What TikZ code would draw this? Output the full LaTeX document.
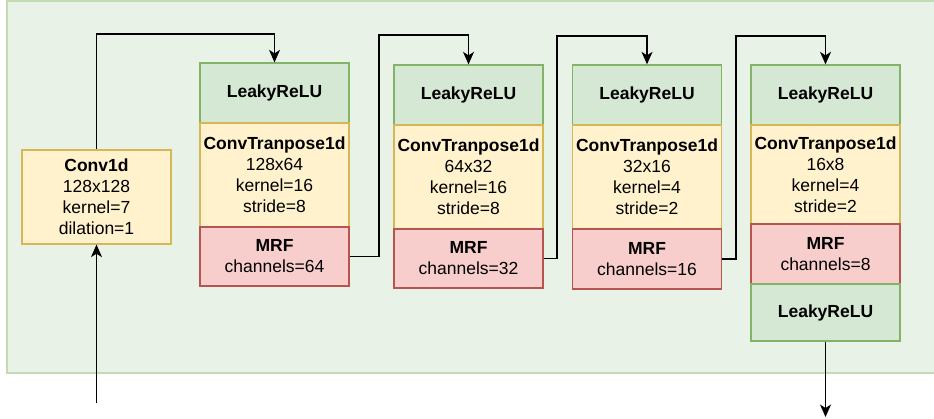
\documentclass[tikz,border=0pt]{standalone}
\usepackage{fontspec}
\setmainfont{Liberation Sans}
\usetikzlibrary{arrows.meta}
\definecolor{gfill}{HTML}{D5E8D4}
\definecolor{gline}{HTML}{82B366}
\definecolor{yfill}{HTML}{FFF2CC}
\definecolor{yline}{HTML}{D6B656}
\definecolor{rfill}{HTML}{F8CECC}
\definecolor{rline}{HTML}{B85450}
\definecolor{bgfill}{HTML}{E8F2E7}
\definecolor{bgline}{HTML}{C2DBB5}
\tikzset{
  blk/.style={rectangle, line width=1.3pt, inner sep=0pt, align=center,
    font=\fontsize{17.5}{21}\selectfont, minimum width=149pt},
  greenbox/.style={blk, fill=gfill, draw=gline},
  yellowbox/.style={blk, fill=yfill, draw=yline},
  redbox/.style={blk, fill=rfill, draw=rline},
  conn/.style={line width=1.3pt, draw=black},
  arr/.style={conn, -{Stealth[length=12.5pt, width=11pt, inset=3.5pt]}}
}
\begin{document}
\begin{tikzpicture}[x=1pt, y=-1pt]
\useasboundingbox (0,0) rectangle (934,419);
\fill[bgfill] (7,1) rectangle (940,373);
\draw[bgline, line width=1.3pt] (940,1) -- (7,1) -- (7,373) -- (940,373);

% Conv1d
\node[yellowbox, minimum height=94pt] (conv) at (96.5,197) {\textbf{Conv1d}\\128x128\\kernel=7\\dilation=1};

% Block 1
\node[greenbox, minimum height=60pt] (l1) at (274.5,93) {\textbf{LeakyReLU}};
\node[yellowbox, minimum height=104pt] (c1) at (274.5,175) {\textbf{ConvTranpose1d}\\128x64\\kernel=16\\stride=8};
\node[redbox, minimum height=59pt] (m1) at (274.5,256.5) {\textbf{MRF}\\channels=64};

% Block 2
\node[greenbox, minimum height=60pt] (l2) at (468.5,95) {\textbf{LeakyReLU}};
\node[yellowbox, minimum height=104pt] (c2) at (468.5,177) {\textbf{ConvTranpose1d}\\64x32\\kernel=16\\stride=8};
\node[redbox, minimum height=59pt] (m2) at (468.5,258.5) {\textbf{MRF}\\channels=32};

% Block 3
\node[greenbox, minimum height=60pt] (l3) at (647,95) {\textbf{LeakyReLU}};
\node[yellowbox, minimum height=104pt] (c3) at (647,177) {\textbf{ConvTranpose1d}\\32x16\\kernel=4\\stride=2};
\node[redbox, minimum height=60pt] (m3) at (647,259) {\textbf{MRF}\\channels=16};

% Block 4
\node[greenbox, minimum height=60pt] (l4) at (825.5,95) {\textbf{LeakyReLU}};
\node[yellowbox, minimum height=99pt] (c4) at (825.5,174.5) {\textbf{ConvTranpose1d}\\16x8\\kernel=4\\stride=2};
\node[redbox, minimum height=60pt] (m4) at (825.5,254) {\textbf{MRF}\\channels=8};
\node[greenbox, minimum height=57pt] (l5) at (825.5,312.5) {\textbf{LeakyReLU}};

% Endpoints
\coordinate (in) at (96.5,403);
\coordinate (out) at (825.5,417);
\coordinate (t1) at (0,34);
\coordinate (t2) at (0,35);
\coordinate (t3) at (0,36);
\coordinate (t4) at (0,36);
\coordinate (v2) at (379,0);
\coordinate (v3) at (557,0);
\coordinate (v4) at (736,0);

% Connectors
\draw[arr] (in) -- (conv.south);
\draw[arr] (conv.north) -- (conv.north |- t1) -- (l1.north |- t1) -- (l1.north);
\draw[arr] (m1.east) -- (v2 |- m1.east) -- (v2 |- t2) -- (l2.north |- t2) -- (l2.north);
\draw[arr] (m2.east) -- (v3 |- m2.east) -- (v3 |- t3) -- (l3.north |- t3) -- (l3.north);
\draw[arr] (m3.east) -- (v4 |- m3.east) -- (v4 |- t4) -- (l4.north |- t4) -- (l4.north);
\draw[arr] (l5.south) -- (out);
\end{tikzpicture}
\end{document}
